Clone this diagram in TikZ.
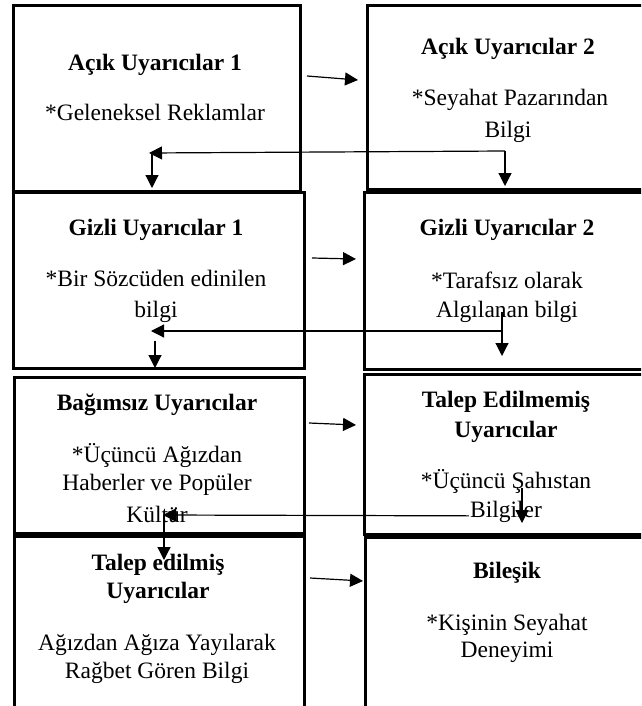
\documentclass[tikz,border=0pt]{standalone}
\usepackage{fontspec}
\setmainfont{Liberation Serif}
\usetikzlibrary{arrows.meta}

\tikzset{
  box/.style={draw=black, line width=3pt, rectangle, anchor=north west, inner sep=0pt},
  arr/.style={line width=1.2pt, -{Triangle[length=13pt,width=13pt]}},
  ln/.style={line width=1.2pt},
  ttl/.style={anchor=base, inner sep=0pt, font=\fontsize{23.5}{29.5}\selectfont\bfseries},
  txt/.style={anchor=base, inner sep=0pt, font=\fontsize{23.5}{29.5}\selectfont},
}

\begin{document}
\begin{tikzpicture}[x=1pt, y=-1pt]
  \useasboundingbox (0,0) rectangle (641,706);
  \clip (0,0) rectangle (641,706);
  \fill[white] (0,0) rectangle (641,706);

  % left column
  \node[box, minimum width=287pt, minimum height=186pt] (l1) at (12,4) {};
  \node[box, minimum width=291pt, minimum height=176pt] (l2) at (12,191) {};
  \node[box, minimum width=290pt, minimum height=156pt] (l3) at (13,376) {};
  \node[box, minimum width=290pt, minimum height=190pt] (l4) at (13,535) {};
  % right column (runs past the right edge)
  \node[box, minimum width=300pt, minimum height=184pt] (r1) at (366,4) {};
  \node[box, minimum width=300pt, minimum height=177pt] (r2) at (363,191) {};
  \node[box, minimum width=300pt, minimum height=160pt] (r3) at (363,373) {};
  \node[box, minimum width=300pt, minimum height=190pt] (r4) at (364,536) {};

  % line hidden behind "Bilgiler"
  \coordinate (r3p) at (522,516);
  \coordinate (l3p) at (163,515);
  \draw[arr] (r3p) -- (l3p);

  % texts
  \node[ttl] (t1) at (155,71) {Açık Uyarıcılar 1};
  \node[txt] (t1b) at (155,121) {*Geleneksel Reklamlar};

  \node[ttl] (t2) at (508,55) {Açık Uyarıcılar 2};
  \node[txt] (t2b) at (510,106) {*Seyahat Pazarından};
  \node[txt] (t2c) at (508,137) {Bilgi};

  \node[ttl] (t3) at (156,235) {Gizli Uyarıcılar 1};
  \node[txt] (t3b) at (156,286) {*Bir Sözcüden edinilen};
  \node[txt] (t3c) at (156,317) {bilgi};

  \node[ttl] (t4) at (507,235) {Gizli Uyarıcılar 2};
  \node[txt] (t4b) at (507,288) {*Tarafsız olarak};
  \node[txt] (t4c) at (507,317) {Algılanan bilgi};

  \node[ttl] (t5) at (157,410) {Bağımsız Uyarıcılar};
  \node[txt] (t5b) at (157,462) {*Üçüncü Ağızdan};
  \node[txt] (t5c) at (157,490) {Haberler ve Popüler};
  \node[txt] (t5d) at (157,522) {Kültür};

  \node[ttl] (t6) at (506,407) {Talep Edilmemiş};
  \node[ttl] (t6b) at (506,437) {Uyarıcılar};
  \node[txt] (t6c) at (506,488) {*Üçüncü Şahıstan};
  \node[txt, fill=white, inner xsep=1pt, inner ysep=2pt] (t6d) at (506,517) {Bilgiler};

  \node[ttl] (t7) at (158,570) {Talep edilmiş};
  \node[ttl] (t7b) at (158,598) {Uyarıcılar};
  \node[txt] (t7c) at (157,650) {Ağızdan Ağıza Yayılarak};
  \node[txt] (t7d) at (157,678) {Rağbet Gören Bilgi};

  \node[ttl] (t8) at (507,578) {Bileşik};
  \node[txt] (t8b) at (507,630) {*Kişinin Seyahat};
  \node[txt] (t8c) at (507,657) {Deneyimi};

  % connector end points
  \coordinate (h1a) at (307,76);  \coordinate (h1b) at (358,80);
  \coordinate (h2a) at (312,258); \coordinate (h2b) at (356,259);
  \coordinate (h3a) at (309,423); \coordinate (h3b) at (356,425);
  \coordinate (h4a) at (310,578); \coordinate (h4b) at (363,581);

  \coordinate (r1p) at (505,151); \coordinate (l1p) at (149,153);
  \coordinate (l1v) at (152,153);
  \coordinate (r2p) at (502,331); \coordinate (l2p) at (151,331);
  \coordinate (r2v) at (502,312);
  \coordinate (l2v) at (155,341);
  \coordinate (r3v) at (522,488);
  \coordinate (l3v) at (164,515);

  % rightward arrows
  \draw[arr] (h1a) -- (h1b);
  \draw[arr] (h2a) -- (h2b);
  \draw[arr] (h3a) -- (h3b);
  \draw[arr] (h4a) -- (h4b);

  % return arrows and downward arrows
  \draw[arr] (r1p) -- (l1p);
  \draw[arr] (r1p) -- ([yshift=5pt]r1p |- r1.south);
  \draw[arr] (l1v) -- ([yshift=3pt]l1v |- l2.north);

  \draw[arr] (r2p) -- (l2p);
  \draw[ln] (r2v) -- (r2p);
  \draw[arr] (r2p) -- ([yshift=15pt]r2p |- r2.south);
  \draw[arr] (l2v) -- ([yshift=2pt]l2v |- l2.south);

  \draw[arr] (r3v) -- ([yshift=13pt]r3v |- r3.south);
  \draw[arr] (l3v) -- ([yshift=-25pt]l3v |- l4.north);
\end{tikzpicture}
\end{document}
